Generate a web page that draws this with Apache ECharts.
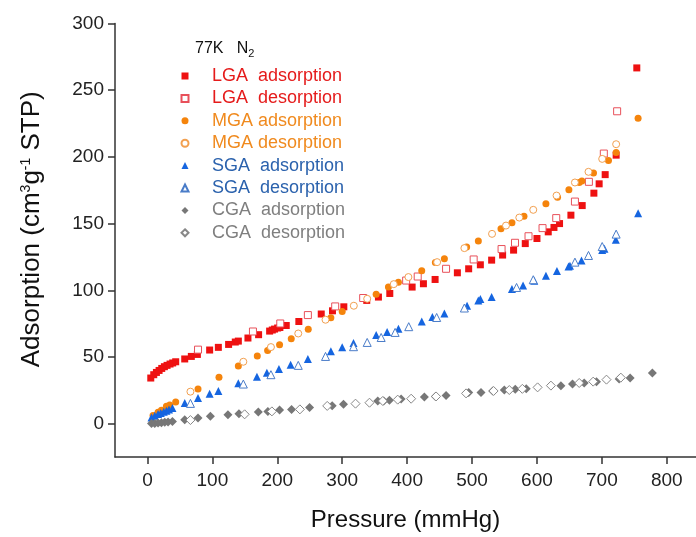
<!DOCTYPE html>
<html>
<head>
<meta charset="utf-8">
<script src="https://cdn.jsdelivr.net/npm/echarts@6/dist/echarts.min.js"></script>
<style>
  html, body { margin: 0; padding: 0; background: #fff; }
  #chart { width: 696px; height: 537px; }
</style>
</head>
<body>
<div id="chart"></div>
<script>
// N2 isotherms at 77 K: [pressure (mmHg), adsorbed volume (cm3/g STP)]
const lgaAds = [[5.1,34.2],[9.7,36.7],[13.8,38.4],[17.9,39.9],[22,41.4],[26.1,42.7],[30.2,43.7],[34.8,44.7],[38.9,45.5],[43.5,46.4],[57.4,48.5],[67.6,50.4],[76.9,51.9],[95.8,55.2],[109.2,57.2],[125,59.4],[135.3,61.2],[140,61.9],[154.8,64.2],[171.2,66.7],[188.2,69.4],[192.3,70.2],[195.8,70.9],[200.5,71.7],[204,72.1],[213.8,73.6],[233.2,76.6],[267.7,82.2],[285,84.6],[302.5,87.6],[337.8,92.4],[355.8,94.9],[373.3,97.6],[407.7,102.4],[425.1,104.9],[443.1,108.1],[477.4,113.1],[494.8,116.1],[512.8,119.1],[530.2,122.6],[547.1,126.4],[564,130.1],[582,135],[600,138.8],[617.4,143.8],[626.2,147.1],[634.8,150],[652.3,156.3],[669.7,163.5],[687.7,172.8],[695.8,179.8],[705.1,186.7],[722,201.3],[753.8,266.7]];
const lgaDes = [[77.9,55.5],[162.5,69.1],[204.6,75.1],[247.1,81.4],[289.2,87.9],[332.3,94.2],[398.5,107.3],[416.3,110.3],[460,116.1],[502.5,123.1],[545.5,130.9],[566.2,135.6],[587,140.5],[608.6,146.6],[629.7,154.1],[658.5,166.5],[680,181.3],[703,202.5],[723.5,234.2]];
const mgaAds = [[8.6,6.2],[16.3,8.5],[21.5,10],[29.2,13],[34.3,14],[43.5,16.3],[77.9,26],[110.2,34.7],[140,43.2],[169.2,50.7],[185.1,54.9],[203.5,59.2],[221.5,63.7],[247.7,70.7],[282.5,79.4],[300,84.1],[352.3,97.1],[371.2,102.4],[386.6,106.1],[422.5,114.6],[443.5,120.8],[457.4,123.6],[491.7,132.4],[509.7,136.9],[544.6,146.1],[561.5,150.6],[580,155.5],[613.8,164.8],[631.7,169.8],[649.2,175.3],[665.1,180.8],[669.2,182],[687.1,188],[710.2,197.2],[722,203.2],[755.8,229]];
const mgaDes = [[66.2,24],[147.7,46.4],[190.2,57.4],[232.3,67.6],[274.3,77.9],[317.9,88.4],[338.5,93.6],[379.4,104.6],[402,109.9],[446.2,121.1],[488.2,131.6],[530.8,142.3],[552.3,148.5],[572.8,154.5],[594.3,160.3],[630.2,171],[658.5,180.8],[679.4,188.8],[700.5,198.5],[722,209.5]];
const sgaAds = [[6.2,4.7],[11.2,6],[16.3,7.3],[20.5,8],[25.1,9],[29.2,9.7],[33.2,10.7],[38.5,11.8],[57.4,15.5],[77.9,19.3],[95.8,22.5],[109.2,24.5],[140,30.2],[168.6,35.2],[184,38.2],[202.5,41],[220.5,44.2],[247.1,48.5],[282.5,54.2],[300,57.2],[317.4,60.4],[352.3,66.4],[369.2,68.7],[386.6,71.2],[422.5,76.6],[438.9,79.9],[457.4,82.6],[492.3,88.4],[509.7,92.4],[512.8,93.4],[530.2,94.9],[561.5,100.9],[578.6,103.5],[595.8,107.1],[613.8,110.9],[630.8,114.4],[648.6,117.8],[650.8,118.4],[668.6,122.3],[700.5,130.1],[704,131.1],[721.5,137.8],[755.8,157.8]];
const sgaDes = [[66.2,15.2],[147.7,29.7],[190.2,36.7],[232.3,43.7],[274.3,50.4],[317.4,57.7],[338.5,60.9],[360,64.6],[381.5,68.4],[402.5,72.7],[445.5,79.6],[488.2,86.7],[568.6,102.1],[594.3,107.9],[658.5,121.1],[679.4,126.1],[700.5,132.8],[722,142.1]];
const cgaAds = [[6.2,0.2],[11.2,0.2],[16.3,0.5],[21.5,0.7],[26.6,1],[31.7,1.2],[38.5,1.7],[57.4,3],[77.9,4.2],[96.9,5.5],[124,6.7],[140.9,7.5],[170.8,8.7],[185.5,9.2],[203.5,10.2],[222,10.7],[249.7,12.2],[284.6,13.5],[302,14.5],[354.8,17],[364,17],[372.8,17.5],[390.8,18.5],[426.6,20],[443.5,20.4],[460,21.2],[494.8,23.4],[513.8,23.4],[531.7,24.5],[549.7,25.2],[566.6,25.7],[583.5,26.2],[636.9,28.5],[654.8,29.7],[672.8,30.5],[691.7,31.5],[726.6,33.5],[743.5,34.2],[777.8,38]];
const cgaDes = [[66.2,2.7],[149.7,7],[191.7,9.2],[234.8,10.7],[276.9,13.3],[320.5,15],[342,15.7],[362.5,17],[385.5,18],[406.2,18.7],[444.6,20.4],[490.8,22.7],[533.2,24.5],[557.4,25.2],[577.5,26.1],[601,27.2],[621.5,28.5],[665.1,30.5],[686.6,31.5],[707.1,33],[729.2,34.5]];

const xTicks = [0, 100, 200, 300, 400, 500, 600, 700, 800];
const yTicks = [0, 50, 100, 150, 200, 250, 300];

const seriesNames = ['LGA  adsorption', 'LGA  desorption', 'MGA adsorption', 'MGA desorption',
                     'SGA  adsorption', 'SGA  desorption', 'CGA  adsorption', 'CGA  desorption'];

const FONT = '"Liberation Sans", Arial, sans-serif';

function filled(name, data, symbol, size, color) {
  return { name, type: 'scatter', data, symbol, symbolSize: size,
           itemStyle: { color: color, opacity: 1 } };
}
function hollow(name, data, symbol, size, color) {
  return { name, type: 'scatter', data, symbol, symbolSize: size,
           itemStyle: { color: '#ffffff', borderColor: color, borderWidth: 1, opacity: 1 } };
}

const legendText = {
  'LGA  adsorption': '#e51b1b', 'LGA  desorption': '#e51b1b',
  'MGA adsorption': '#f08a1e', 'MGA desorption': '#f08a1e',
  'SGA  adsorption': '#2b62ad', 'SGA  desorption': '#2b62ad',
  'CGA  adsorption': '#7f7f7f', 'CGA  desorption': '#7f7f7f'
};

const chart = echarts.init(document.getElementById('chart'), null, { renderer: 'canvas' });
chart.setOption({
  animation: false,
  backgroundColor: '#ffffff',
  textStyle: { fontFamily: FONT },
  title: {
    text: '77K   N{sub|2}',
    left: 190, top: 33,
    textStyle: {
      fontFamily: FONT, fontSize: 16, fontWeight: 'normal', color: '#111',
      rich: { sub: { fontFamily: FONT, fontSize: 11, color: '#111', padding: [10, 0, 0, 0] } }
    }
  },
  grid: { left: 115, top: 23.5, right: 0, bottom: 79, containLabel: false },
  legend: {
    orient: 'vertical', left: 175.5, top: 61,
    itemWidth: 7, itemHeight: 7, itemGap: 2.4,
    data: seriesNames.map(n => ({ name: n, textStyle: { color: legendText[n] } })),
    textStyle: { fontFamily: FONT, fontSize: 18, lineHeight: 20, padding: [0, 0, 0, 18.5] }
  },
  xAxis: {
    type: 'value', min: -50, max: 845,
    name: 'Pressure (mmHg)', nameLocation: 'middle', nameGap: 51,
    nameTextStyle: { fontFamily: FONT, fontSize: 24, color: '#111' },
    axisLine: { show: true, onZero: false, lineStyle: { color: '#333', width: 1.5 } },
    axisTick: { show: true, inside: false, length: 7, customValues: xTicks, lineStyle: { color: '#333', width: 1.5 } },
    axisLabel: { customValues: xTicks, fontFamily: FONT, fontSize: 19, color: '#222', margin: 14 },
    splitLine: { show: false }
  },
  yAxis: {
    type: 'value', min: -25, max: 300,
    name: 'Adsorption (cm{sup|3}g{sup|-1} STP)', nameLocation: 'middle', nameGap: 70,
    nameTextStyle: {
      fontFamily: FONT, fontSize: 26, color: '#111', padding: [0, 0, 0, 22],
      rich: { sup: { fontFamily: FONT, fontSize: 14, color: '#111', verticalAlign: 'top', padding: [0, 0, 11, 0] } }
    },
    axisLine: { show: true, onZero: false, lineStyle: { color: '#333', width: 1.5 } },
    axisTick: { show: true, inside: false, length: 7, customValues: yTicks, lineStyle: { color: '#333', width: 1.5 } },
    axisLabel: { customValues: yTicks, fontFamily: FONT, fontSize: 19, color: '#222', margin: 11 },
    splitLine: { show: false }
  },
  series: [
    filled(seriesNames[0], lgaAds, 'rect', 7, '#ee1111'),
    hollow(seriesNames[1], lgaDes, 'rect', 7, '#e8505a'),
    filled(seriesNames[2], mgaAds, 'circle', 7, '#f5840c'),
    hollow(seriesNames[3], mgaDes, 'circle', 7, '#f2a050'),
    filled(seriesNames[4], sgaAds, 'triangle', 8, '#1565e0'),
    hollow(seriesNames[5], sgaDes, 'triangle', 8, '#4a7cc8'),
    filled(seriesNames[6], cgaAds, 'diamond', 9, '#777777'),
    hollow(seriesNames[7], cgaDes, 'diamond', 9, '#888888')
  ]
});
</script>
</body>
</html>
